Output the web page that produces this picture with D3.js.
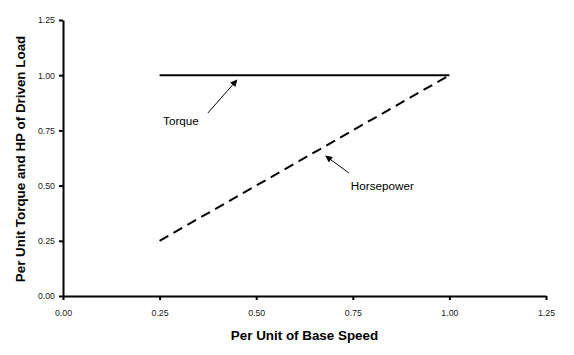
<!DOCTYPE html>
<html lang="en">
<head>
    <meta charset="UTF-8">
    <title>Per Unit Torque and HP</title>
    <style>
        body { margin: 0; background: #fff; }
        text { font-family: "Liberation Sans", Arial, sans-serif; }
    </style>
    <script type="text/javascript" src="https://d3js.org/d3.v7.min.js"></script>
</head>
<body>
    <script type="text/javascript">

       var speed      = [0.25, 1.00];
       var torque     = [1.00, 1.00];
       var horsepower = [0.25, 1.00];
       var xTicks = [0, 0.25, 0.5, 0.75, 1.0, 1.25];
       var yTicks = [0, 0.25, 0.5, 0.75, 1.0, 1.25];
       // label text, label position, arrow tail, arrow tip (data units)
       var notes = [
           {text: "Torque",     lx: 0.259, ly: 0.775, x0: 0.375, y0: 0.829, x1: 0.450, y1: 0.978},
           {text: "Horsepower", lx: 0.745, ly: 0.48,  x0: 0.740, y0: 0.557, x1: 0.680, y1: 0.634}
       ];

       var width = 574, height = 355;
       var mLeft = 63, mRight = 546, mTop = 20, mBottom = 296;

       var svg = d3.select("body").append("svg")
                   .attr("width", width)
                   .attr("height", height);

       var xScale = d3.scaleLinear().domain([0, 1.25]).range([mLeft, mRight]);
       var yScale = d3.scaleLinear().domain([0, 1.25]).range([mBottom, mTop]);

       svg.append("defs").append("marker")
          .attr("id", "arrow")
          .attr("viewBox", "0 0 10 10")
          .attr("refX", 9).attr("refY", 5)
          .attr("markerWidth", 9).attr("markerHeight", 7)
          .attr("markerUnits", "userSpaceOnUse")
          .attr("orient", "auto")
          .append("path")
          .attr("d", "M0,0L10,5L0,10z")
          .attr("fill", "#000");

       var xAxis = d3.axisBottom(xScale).tickValues(xTicks).tickFormat(d3.format(".2f"))
                     .tickSizeInner(4).tickSizeOuter(0).tickPadding(10);
       var yAxis = d3.axisLeft(yScale).tickValues(yTicks).tickFormat(d3.format(".2f"))
                     .tickSizeInner(4).tickSizeOuter(0).tickPadding(4);

       var gx = svg.append("g").attr("transform", "translate(0," + mBottom + ")").call(xAxis);
       var gy = svg.append("g").attr("transform", "translate(" + mLeft + ",0)").call(yAxis);

       [gx, gy].forEach(function(g) {
           g.select(".domain").attr("stroke", "#000").attr("stroke-width", 2);
           g.selectAll(".tick line").attr("stroke", "#000").attr("stroke-width", 2);
           g.selectAll(".tick text")
            .attr("font-family", "Liberation Sans, Arial, sans-serif")
            .attr("font-size", 8.8)
            .attr("fill", "#222");
       });

       var line = d3.line()
                    .x(function(d) { return xScale(d[0]); })
                    .y(function(d) { return yScale(d[1]); });

       svg.append("path")
          .attr("d", line(d3.zip(speed, torque)))
          .attr("fill", "none").attr("stroke", "#000").attr("stroke-width", 2);

       svg.append("path")
          .attr("d", line(d3.zip(speed, horsepower)))
          .attr("fill", "none").attr("stroke", "#000").attr("stroke-width", 2)
          .attr("stroke-dasharray", "10,6");

       notes.forEach(function(n) {
           svg.append("line")
              .attr("x1", xScale(n.x0)).attr("y1", yScale(n.y0))
              .attr("x2", xScale(n.x1)).attr("y2", yScale(n.y1))
              .attr("stroke", "#000").attr("stroke-width", 1)
              .attr("marker-end", "url(#arrow)");
           svg.append("text")
              .attr("x", xScale(n.lx)).attr("y", yScale(n.ly))
              .attr("font-size", 11.7)
              .text(n.text);
       });

       svg.append("text")
          .attr("x", (mLeft + mRight) / 2).attr("y", 340)
          .attr("text-anchor", "middle")
          .attr("font-size", 13.4).attr("font-weight", "bold")
          .text("Per Unit of Base Speed");

       svg.append("text")
          .attr("transform", "translate(25," + ((mTop + mBottom) / 2 + 1) + ") rotate(-90)")
          .attr("text-anchor", "middle")
          .attr("font-size", 13.4).attr("font-weight", "bold")
          .text("Per Unit Torque and HP of Driven Load");

    </script>
</body>
</html>
